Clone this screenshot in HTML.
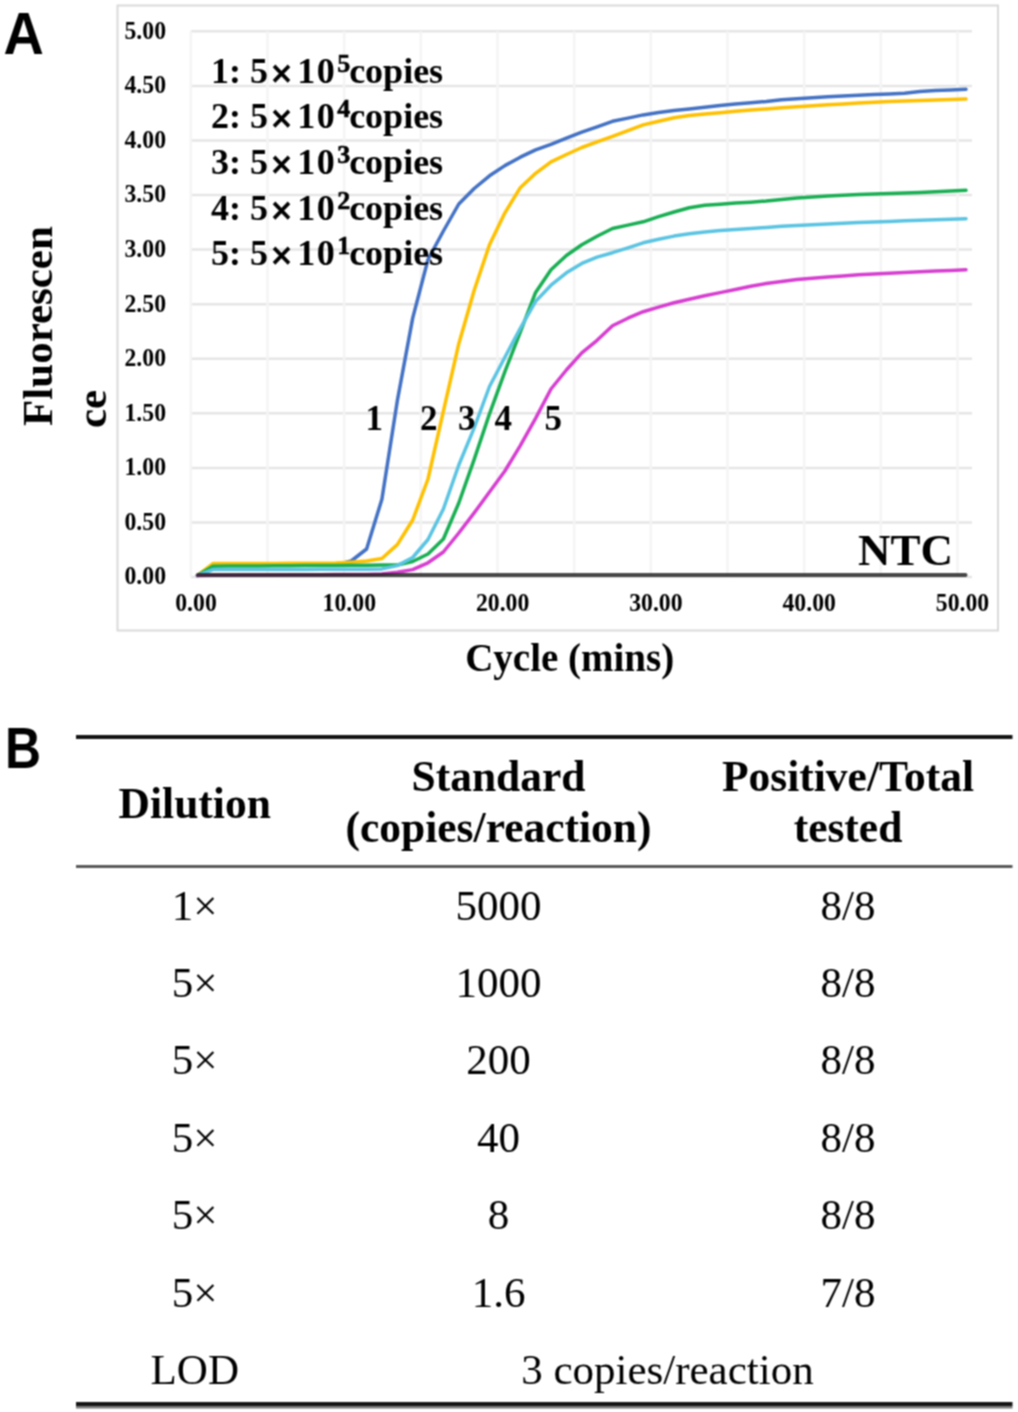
<!DOCTYPE html>
<html><head><meta charset="utf-8"><style>
html,body{margin:0;padding:0;background:#fff;}
body{width:1018px;height:1412px;overflow:hidden;position:relative;}
svg{position:absolute;left:0;top:0;}
</style></head><body>
<svg width="1018" height="1412" viewBox="0 0 1018 1412">
<filter id="soft" filterUnits="userSpaceOnUse" x="0" y="0" width="1018" height="1412" color-interpolation-filters="sRGB"><feConvolveMatrix order="3" kernelMatrix="1 2 1 2 4 2 1 2 1" divisor="16" edgeMode="duplicate" preserveAlpha="true"/></filter>
<g filter="url(#soft)">
<rect x="0" y="0" width="1018" height="1412" fill="#fff"/>
<rect x="117.5" y="5.5" width="880.5" height="625" fill="#fff" stroke="#d9d9d9" stroke-width="2"/>
<line x1="190.8" y1="31.3" x2="972.0" y2="31.3" stroke="#e5e5e5" stroke-width="2.5"/>
<line x1="190.8" y1="85.9" x2="972.0" y2="85.9" stroke="#e5e5e5" stroke-width="2.5"/>
<line x1="190.8" y1="140.4" x2="972.0" y2="140.4" stroke="#e5e5e5" stroke-width="2.5"/>
<line x1="190.8" y1="195.0" x2="972.0" y2="195.0" stroke="#e5e5e5" stroke-width="2.5"/>
<line x1="190.8" y1="249.6" x2="972.0" y2="249.6" stroke="#e5e5e5" stroke-width="2.5"/>
<line x1="190.8" y1="304.2" x2="972.0" y2="304.2" stroke="#e5e5e5" stroke-width="2.5"/>
<line x1="190.8" y1="358.7" x2="972.0" y2="358.7" stroke="#e5e5e5" stroke-width="2.5"/>
<line x1="190.8" y1="413.3" x2="972.0" y2="413.3" stroke="#e5e5e5" stroke-width="2.5"/>
<line x1="190.8" y1="467.9" x2="972.0" y2="467.9" stroke="#e5e5e5" stroke-width="2.5"/>
<line x1="190.8" y1="522.4" x2="972.0" y2="522.4" stroke="#e5e5e5" stroke-width="2.5"/>
<line x1="190.8" y1="577.0" x2="972.0" y2="577.0" stroke="#e5e5e5" stroke-width="2.5"/>
<line x1="190.8" y1="31.3" x2="190.8" y2="577.0" stroke="#f4f4f4" stroke-width="2.5"/>
<line x1="267.5" y1="31.3" x2="267.5" y2="577.0" stroke="#f4f4f4" stroke-width="2.5"/>
<line x1="344.1" y1="31.3" x2="344.1" y2="577.0" stroke="#f4f4f4" stroke-width="2.5"/>
<line x1="420.8" y1="31.3" x2="420.8" y2="577.0" stroke="#f4f4f4" stroke-width="2.5"/>
<line x1="497.5" y1="31.3" x2="497.5" y2="577.0" stroke="#f4f4f4" stroke-width="2.5"/>
<line x1="574.2" y1="31.3" x2="574.2" y2="577.0" stroke="#f4f4f4" stroke-width="2.5"/>
<line x1="650.8" y1="31.3" x2="650.8" y2="577.0" stroke="#f4f4f4" stroke-width="2.5"/>
<line x1="727.5" y1="31.3" x2="727.5" y2="577.0" stroke="#f4f4f4" stroke-width="2.5"/>
<line x1="804.2" y1="31.3" x2="804.2" y2="577.0" stroke="#f4f4f4" stroke-width="2.5"/>
<line x1="880.8" y1="31.3" x2="880.8" y2="577.0" stroke="#f4f4f4" stroke-width="2.5"/>
<line x1="957.5" y1="31.3" x2="957.5" y2="577.0" stroke="#f4f4f4" stroke-width="2.5"/>
<text transform="translate(166,38.7) scale(0.95,1)" text-anchor="end" font-family='"Liberation Serif", serif' font-weight="bold" font-size="25">5.00</text>
<text transform="translate(166,93.3) scale(0.95,1)" text-anchor="end" font-family='"Liberation Serif", serif' font-weight="bold" font-size="25">4.50</text>
<text transform="translate(166,147.8) scale(0.95,1)" text-anchor="end" font-family='"Liberation Serif", serif' font-weight="bold" font-size="25">4.00</text>
<text transform="translate(166,202.4) scale(0.95,1)" text-anchor="end" font-family='"Liberation Serif", serif' font-weight="bold" font-size="25">3.50</text>
<text transform="translate(166,257.0) scale(0.95,1)" text-anchor="end" font-family='"Liberation Serif", serif' font-weight="bold" font-size="25">3.00</text>
<text transform="translate(166,311.6) scale(0.95,1)" text-anchor="end" font-family='"Liberation Serif", serif' font-weight="bold" font-size="25">2.50</text>
<text transform="translate(166,366.1) scale(0.95,1)" text-anchor="end" font-family='"Liberation Serif", serif' font-weight="bold" font-size="25">2.00</text>
<text transform="translate(166,420.7) scale(0.95,1)" text-anchor="end" font-family='"Liberation Serif", serif' font-weight="bold" font-size="25">1.50</text>
<text transform="translate(166,475.3) scale(0.95,1)" text-anchor="end" font-family='"Liberation Serif", serif' font-weight="bold" font-size="25">1.00</text>
<text transform="translate(166,529.8) scale(0.95,1)" text-anchor="end" font-family='"Liberation Serif", serif' font-weight="bold" font-size="25">0.50</text>
<text transform="translate(166,584.4) scale(0.95,1)" text-anchor="end" font-family='"Liberation Serif", serif' font-weight="bold" font-size="25">0.00</text>
<text transform="translate(196.0,611.1) scale(0.95,1)" text-anchor="middle" font-family='"Liberation Serif", serif' font-weight="bold" font-size="25">0.00</text>
<text transform="translate(349.3,611.1) scale(0.95,1)" text-anchor="middle" font-family='"Liberation Serif", serif' font-weight="bold" font-size="25">10.00</text>
<text transform="translate(502.6,611.1) scale(0.95,1)" text-anchor="middle" font-family='"Liberation Serif", serif' font-weight="bold" font-size="25">20.00</text>
<text transform="translate(655.9,611.1) scale(0.95,1)" text-anchor="middle" font-family='"Liberation Serif", serif' font-weight="bold" font-size="25">30.00</text>
<text transform="translate(809.2,611.1) scale(0.95,1)" text-anchor="middle" font-family='"Liberation Serif", serif' font-weight="bold" font-size="25">40.00</text>
<text transform="translate(962.5,611.1) scale(0.95,1)" text-anchor="middle" font-family='"Liberation Serif", serif' font-weight="bold" font-size="25">50.00</text>
<polyline points="197.5,575.5 212.9,565.0 228.2,565.0 243.6,565.0 259.0,565.0 274.4,565.0 289.7,565.0 305.1,565.0 320.5,565.0 335.8,565.0 351.2,561.0 366.6,549.0 381.9,499.2 397.3,400.9 412.7,318.1 428.0,259.5 443.4,231.0 458.8,204.0 474.2,188.5 489.5,175.8 504.9,165.6 520.3,157.2 535.6,149.8 551.0,144.4 566.4,138.1 581.8,132.2 597.1,126.8 612.5,121.3 627.9,118.1 643.2,114.9 658.6,112.5 674.0,110.4 689.3,108.9 704.7,107.2 720.1,105.4 735.4,103.9 750.8,102.8 766.2,101.5 781.6,99.8 796.9,98.7 812.3,97.8 827.7,96.8 843.0,96.1 858.4,95.3 873.8,94.6 889.1,93.9 904.5,93.2 919.9,91.5 935.3,90.5 950.6,89.9 966.0,89.2" fill="none" stroke="#4472C4" stroke-width="3.5" stroke-linejoin="round" stroke-linecap="round"/>
<polyline points="197.5,575.5 212.9,563.6 228.2,563.5 243.6,563.5 259.0,563.4 274.4,563.4 289.7,563.3 305.1,563.2 320.5,563.2 335.8,563.1 351.2,562.2 366.6,561.0 381.9,558.5 397.3,544.6 412.7,520.0 428.0,479.0 443.4,411.2 458.8,343.7 474.2,290.2 489.5,244.7 504.9,212.8 520.3,187.7 535.6,173.3 551.0,161.8 566.4,154.5 581.8,147.5 597.1,141.8 612.5,136.4 627.9,130.6 643.2,124.9 658.6,121.2 674.0,117.8 689.3,115.6 704.7,114.1 720.1,112.7 735.4,111.3 750.8,110.1 766.2,108.9 781.6,107.7 796.9,106.7 812.3,105.7 827.7,104.7 843.0,103.9 858.4,103.0 873.8,102.2 889.1,101.6 904.5,101.0 919.9,100.5 935.3,99.9 950.6,99.4 966.0,98.9" fill="none" stroke="#FFC000" stroke-width="3.5" stroke-linejoin="round" stroke-linecap="round"/>
<polyline points="197.5,575.5 212.9,566.2 228.2,566.1 243.6,566.0 259.0,565.9 274.4,565.8 289.7,565.7 305.1,565.6 320.5,565.5 335.8,565.4 351.2,565.3 366.6,565.2 381.9,565.1 397.3,565.0 412.7,561.5 428.0,554.0 443.4,539.0 458.8,503.0 474.2,459.3 489.5,413.9 504.9,371.6 520.3,332.1 535.6,292.4 551.0,269.8 566.4,255.5 581.8,244.7 597.1,236.2 612.5,228.5 627.9,225.1 643.2,221.8 658.6,216.7 674.0,212.0 689.3,207.7 704.7,205.3 720.1,204.2 735.4,203.1 750.8,202.2 766.2,201.0 781.6,199.4 796.9,197.9 812.3,197.0 827.7,196.1 843.0,195.2 858.4,194.4 873.8,193.9 889.1,193.4 904.5,192.9 919.9,192.4 935.3,191.7 950.6,190.9 966.0,190.2" fill="none" stroke="#1AAF54" stroke-width="3.5" stroke-linejoin="round" stroke-linecap="round"/>
<polyline points="197.5,575.5 212.9,569.6 228.2,569.6 243.6,569.5 259.0,569.5 274.4,569.5 289.7,569.4 305.1,569.4 320.5,569.3 335.8,569.3 351.2,569.3 366.6,569.2 381.9,568.9 397.3,565.6 412.7,557.5 428.0,539.5 443.4,509.0 458.8,465.0 474.2,427.8 489.5,386.5 504.9,357.2 520.3,328.3 535.6,301.4 551.0,285.2 566.4,272.8 581.8,263.4 597.1,257.1 612.5,252.7 627.9,247.8 643.2,242.8 658.6,239.2 674.0,236.1 689.3,233.8 704.7,231.9 720.1,230.6 735.4,229.4 750.8,228.4 766.2,227.4 781.6,226.3 796.9,225.5 812.3,224.8 827.7,224.0 843.0,223.3 858.4,222.6 873.8,222.0 889.1,221.4 904.5,220.8 919.9,220.3 935.3,219.8 950.6,219.3 966.0,218.8" fill="none" stroke="#5BC4E2" stroke-width="3.5" stroke-linejoin="round" stroke-linecap="round"/>
<polyline points="197.5,575.5 212.9,575.3 228.2,575.2 243.6,575.1 259.0,575.0 274.4,574.9 289.7,574.8 305.1,574.7 320.5,574.7 335.8,574.6 351.2,574.5 366.6,574.4 381.9,574.1 397.3,572.3 412.7,569.6 428.0,562.8 443.4,552.0 458.8,533.0 474.2,512.9 489.5,492.0 504.9,471.0 520.3,445.6 535.6,418.4 551.0,389.0 566.4,370.0 581.8,352.8 597.1,340.3 612.5,325.8 627.9,318.2 643.2,311.7 658.6,307.1 674.0,302.8 689.3,299.2 704.7,295.7 720.1,292.6 735.4,289.5 750.8,286.2 766.2,283.5 781.6,281.5 796.9,279.4 812.3,278.2 827.7,277.0 843.0,275.9 858.4,274.7 873.8,274.0 889.1,273.2 904.5,272.5 919.9,271.7 935.3,271.1 950.6,270.4 966.0,269.8" fill="none" stroke="#D63FD0" stroke-width="3.5" stroke-linejoin="round" stroke-linecap="round"/>
<line x1="198" y1="575.0" x2="965.5" y2="575.0" stroke="#232323" stroke-opacity="0.83" stroke-width="4" stroke-linecap="round"/>
<text x="211" y="83.0" font-family='"Liberation Serif", serif' font-weight="bold" font-size="36">1: 5<tspan dx="2.5" dy="3.5" font-size="39" stroke="#000" stroke-width="0.9">×</tspan><tspan dx="4.5" dy="-3.5">1</tspan><tspan dx="1.4">0</tspan><tspan font-size="26" dx="2.5" dy="-11" stroke="#000" stroke-width="0.6">5</tspan><tspan dx="-1.0" dy="11">copies</tspan></text>
<text x="211" y="128.0" font-family='"Liberation Serif", serif' font-weight="bold" font-size="36">2: 5<tspan dx="2.5" dy="3.5" font-size="39" stroke="#000" stroke-width="0.9">×</tspan><tspan dx="4.5" dy="-3.5">1</tspan><tspan dx="1.4">0</tspan><tspan font-size="26" dx="2.5" dy="-11" stroke="#000" stroke-width="0.6">4</tspan><tspan dx="-1.0" dy="11">copies</tspan></text>
<text x="211" y="174.0" font-family='"Liberation Serif", serif' font-weight="bold" font-size="36">3: 5<tspan dx="2.5" dy="3.5" font-size="39" stroke="#000" stroke-width="0.9">×</tspan><tspan dx="4.5" dy="-3.5">1</tspan><tspan dx="1.4">0</tspan><tspan font-size="26" dx="2.5" dy="-11" stroke="#000" stroke-width="0.6">3</tspan><tspan dx="-1.0" dy="11">copies</tspan></text>
<text x="211" y="220.0" font-family='"Liberation Serif", serif' font-weight="bold" font-size="36">4: 5<tspan dx="2.5" dy="3.5" font-size="39" stroke="#000" stroke-width="0.9">×</tspan><tspan dx="4.5" dy="-3.5">1</tspan><tspan dx="1.4">0</tspan><tspan font-size="26" dx="2.5" dy="-11" stroke="#000" stroke-width="0.6">2</tspan><tspan dx="-1.0" dy="11">copies</tspan></text>
<text x="211" y="265.0" font-family='"Liberation Serif", serif' font-weight="bold" font-size="36">5: 5<tspan dx="2.5" dy="3.5" font-size="39" stroke="#000" stroke-width="0.9">×</tspan><tspan dx="4.5" dy="-3.5">1</tspan><tspan dx="1.4">0</tspan><tspan font-size="26" dx="2.5" dy="-11" stroke="#000" stroke-width="0.6">1</tspan><tspan dx="-1.0" dy="11">copies</tspan></text>
<text x="365.5" y="430" font-family='"Liberation Serif", serif' font-weight="bold" font-size="35">1</text>
<text x="420" y="430" font-family='"Liberation Serif", serif' font-weight="bold" font-size="35">2</text>
<text x="458" y="430" font-family='"Liberation Serif", serif' font-weight="bold" font-size="35">3</text>
<text x="494.5" y="430" font-family='"Liberation Serif", serif' font-weight="bold" font-size="35">4</text>
<text x="544.5" y="430" font-family='"Liberation Serif", serif' font-weight="bold" font-size="35">5</text>
<text x="858" y="565" font-family='"Liberation Serif", serif' font-weight="bold" font-size="45">NTC</text>
<text x="569.7" y="671" text-anchor="middle" font-family='"Liberation Serif", serif' font-weight="bold" font-size="39">Cycle (mins)</text>
<text transform="translate(52,426) rotate(-90)" font-family='"Liberation Serif", serif' font-weight="bold" font-size="43">Fluorescen</text>
<text transform="translate(106,428) rotate(-90)" font-family='"Liberation Serif", serif' font-weight="bold" font-size="43">ce</text>
<text transform="translate(3.5,54.3) scale(0.955,1)" font-family='"Liberation Sans", sans-serif' font-weight="bold" font-size="58.5">A</text>
<text transform="translate(5,767.5) scale(0.875,1)" font-family='"Liberation Sans", sans-serif' font-weight="bold" font-size="57">B</text>
<rect x="76" y="735" width="936.5" height="4" fill="#151515"/>
<rect x="76" y="865" width="936.5" height="3" fill="#5a5a5a"/>
<rect x="76" y="1402" width="936.5" height="4.5" fill="#151515"/>
<rect x="76" y="1406.5" width="936.5" height="2" fill="#777"/>
<text x="194.75" y="817.5" text-anchor="middle" font-family='"Liberation Serif", serif' font-weight="bold" font-size="43.5">Dilution</text>
<text x="498.5" y="790.5" text-anchor="middle" font-family='"Liberation Serif", serif' font-weight="bold" font-size="43.5">Standard</text>
<text x="498.5" y="842" text-anchor="middle" font-family='"Liberation Serif", serif' font-weight="bold" font-size="43.5">(copies/reaction)</text>
<text x="848" y="790.5" text-anchor="middle" font-family='"Liberation Serif", serif' font-weight="bold" font-size="43.5">Positive/Total</text>
<text x="848" y="842" text-anchor="middle" font-family='"Liberation Serif", serif' font-weight="bold" font-size="43.5">tested</text>
<text x="194.75" y="919.5" text-anchor="middle" font-family='"Liberation Serif", serif' font-size="43">1×</text>
<text x="498.5" y="919.5" text-anchor="middle" font-family='"Liberation Serif", serif' font-size="43">5000</text>
<text x="848" y="919.5" text-anchor="middle" font-family='"Liberation Serif", serif' font-size="43">8/8</text>
<text x="194.75" y="996.9" text-anchor="middle" font-family='"Liberation Serif", serif' font-size="43">5×</text>
<text x="498.5" y="996.9" text-anchor="middle" font-family='"Liberation Serif", serif' font-size="43">1000</text>
<text x="848" y="996.9" text-anchor="middle" font-family='"Liberation Serif", serif' font-size="43">8/8</text>
<text x="194.75" y="1074.3" text-anchor="middle" font-family='"Liberation Serif", serif' font-size="43">5×</text>
<text x="498.5" y="1074.3" text-anchor="middle" font-family='"Liberation Serif", serif' font-size="43">200</text>
<text x="848" y="1074.3" text-anchor="middle" font-family='"Liberation Serif", serif' font-size="43">8/8</text>
<text x="194.75" y="1151.7" text-anchor="middle" font-family='"Liberation Serif", serif' font-size="43">5×</text>
<text x="498.5" y="1151.7" text-anchor="middle" font-family='"Liberation Serif", serif' font-size="43">40</text>
<text x="848" y="1151.7" text-anchor="middle" font-family='"Liberation Serif", serif' font-size="43">8/8</text>
<text x="194.75" y="1229.1" text-anchor="middle" font-family='"Liberation Serif", serif' font-size="43">5×</text>
<text x="498.5" y="1229.1" text-anchor="middle" font-family='"Liberation Serif", serif' font-size="43">8</text>
<text x="848" y="1229.1" text-anchor="middle" font-family='"Liberation Serif", serif' font-size="43">8/8</text>
<text x="194.75" y="1306.5" text-anchor="middle" font-family='"Liberation Serif", serif' font-size="43">5×</text>
<text x="498.5" y="1306.5" text-anchor="middle" font-family='"Liberation Serif", serif' font-size="43">1.6</text>
<text x="848" y="1306.5" text-anchor="middle" font-family='"Liberation Serif", serif' font-size="43">7/8</text>
<text x="194.75" y="1383.9" text-anchor="middle" font-family='"Liberation Serif", serif' font-size="43">LOD</text>
<text x="667.4" y="1383.9" text-anchor="middle" font-family='"Liberation Serif", serif' font-size="43">3 copies/reaction</text>
</g>
</svg>
</body></html>
